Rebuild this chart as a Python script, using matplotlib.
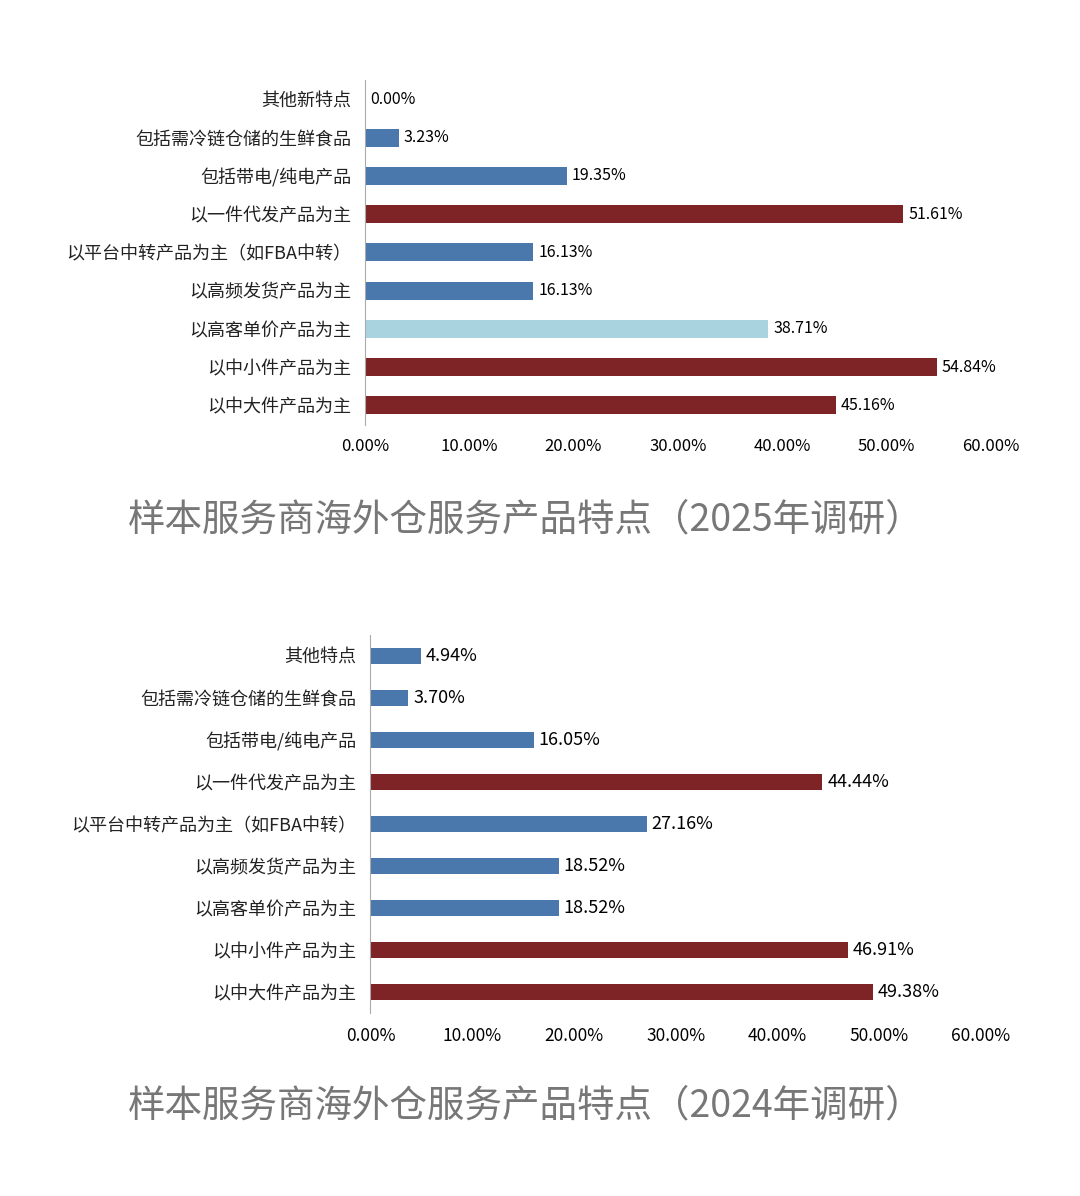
import matplotlib.pyplot as plt
import numpy as np

plt.rcParams['font.family'] = ['Noto Sans CJK SC', 'DejaVu Sans']

cats_2025 = ['其他新特点', '包括需冷链仓储的生鲜食品', '包括带电/纯电产品', '以一件代发产品为主',
             '以平台中转产品为主（如FBA中转）', '以高频发货产品为主', '以高客单价产品为主',
             '以中小件产品为主', '以中大件产品为主']
vals_2025 = [0.00, 3.23, 19.35, 51.61, 16.13, 16.13, 38.71, 54.84, 45.16]
cats_2024 = ['其他特点', '包括需冷链仓储的生鲜食品', '包括带电/纯电产品', '以一件代发产品为主',
             '以平台中转产品为主（如FBA中转）', '以高频发货产品为主', '以高客单价产品为主',
             '以中小件产品为主', '以中大件产品为主']
vals_2024 = [4.94, 3.70, 16.05, 44.44, 27.16, 18.52, 18.52, 46.91, 49.38]

BLUE = '#4a78ad'
RED = '#7e2427'
LIGHT = '#a9d3de'
colors_2025 = [BLUE, BLUE, BLUE, RED, BLUE, BLUE, LIGHT, RED, RED]
colors_2024 = [BLUE, BLUE, BLUE, RED, BLUE, BLUE, BLUE, RED, RED]

fig = plt.figure(figsize=(10.8, 11.96), dpi=100)


def draw(ax, cats, vals, colors, yfs, xfs, lfs, h):
    y = np.arange(len(cats))
    ax.barh(y, vals, color=colors, height=h)
    ax.set_ylim(len(cats) - 0.5, -0.5)
    ax.set_xlim(0, 60)
    ax.set_yticks(y)
    ax.set_yticklabels(cats, fontsize=yfs, color='#222222')
    ax.set_xticks(range(0, 61, 10))
    ax.set_xticklabels(['%.2f%%' % t for t in range(0, 61, 10)], fontsize=xfs)
    for yi, v in zip(y, vals):
        ax.text(v + 0.5, yi, '%.2f%%' % v, va='center', fontsize=lfs)
    for s in ['top', 'right', 'bottom']:
        ax.spines[s].set_visible(False)
    ax.spines['left'].set_color('#aaaaaa')
    ax.tick_params(length=0)
    ax.tick_params(axis='y', pad=10)
    ax.tick_params(axis='x', pad=10)


ax1 = fig.add_axes([0.338, 0.645, 0.579, 0.288])
draw(ax1, cats_2025, vals_2025, colors_2025, 13, 12, 11.5, 0.47)
ax2 = fig.add_axes([0.343, 0.153, 0.565, 0.316])
draw(ax2, cats_2024, vals_2024, colors_2024, 13, 12.5, 13, 0.4)

fig.text(0.487, 0.565, '样本服务商海外仓服务产品特点（2025年调研）', ha='center', va='center',
         fontsize=27, color='#777777')
fig.text(0.487, 0.075, '样本服务商海外仓服务产品特点（2024年调研）', ha='center', va='center',
         fontsize=27, color='#777777')

fig.savefig('out.png', dpi=100, facecolor='white')
